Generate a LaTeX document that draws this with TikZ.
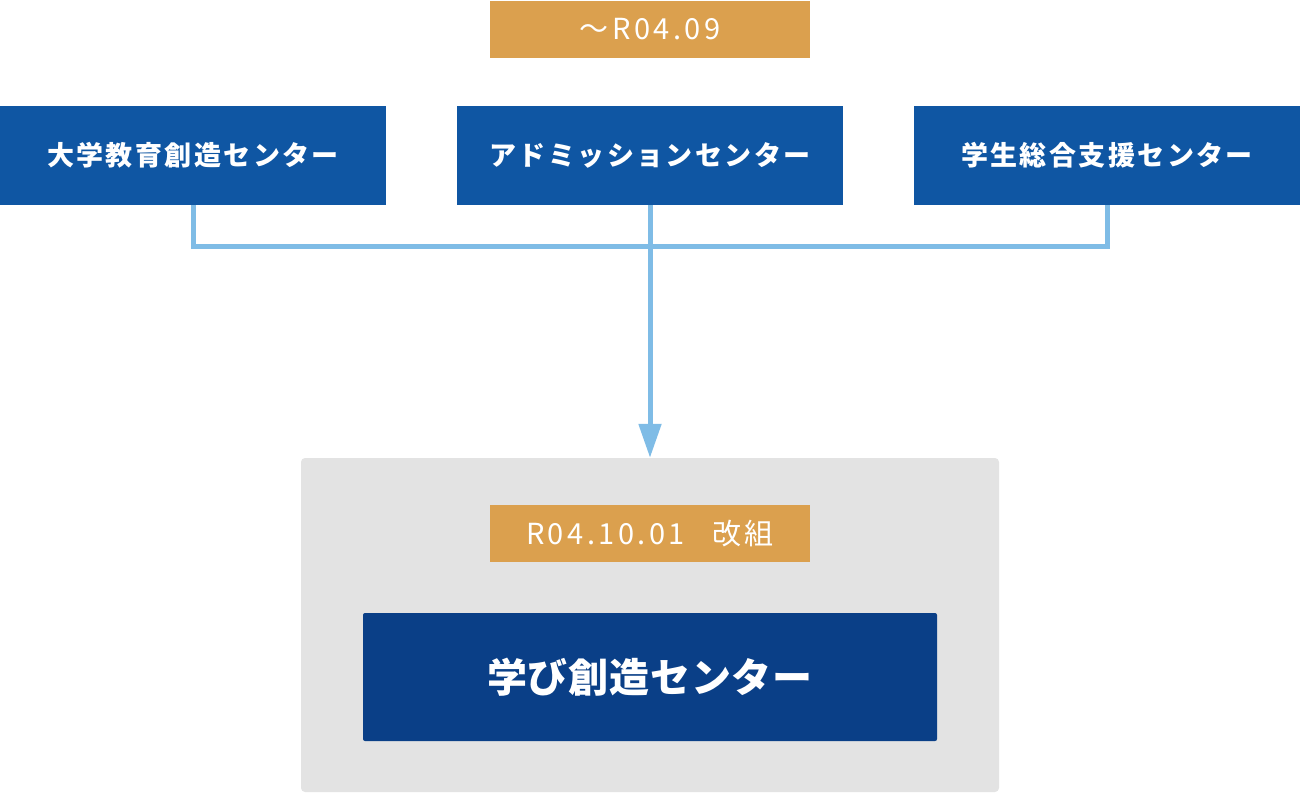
\documentclass[tikz,border=0pt]{standalone}
\usepackage{fontspec}
\setmainfont{Noto Sans CJK JP}
\usetikzlibrary{arrows.meta}
\definecolor{ochre}{HTML}{DBA04E}
\definecolor{midblue}{HTML}{0F56A3}
\definecolor{darkblue}{HTML}{0A3F87}
\definecolor{lineblue}{HTML}{7FBCE6}
\definecolor{panel}{HTML}{E3E3E3}
\tikzset{
  datebox/.style={fill=ochre, text=white, minimum width=320pt, minimum height=57pt, inner sep=0pt, font=\fontsize{29}{32}\selectfont\addfontfeature{LetterSpace=12}},
  unitbox/.style={fill=midblue, text=white, minimum width=386pt, minimum height=99pt, inner sep=0pt, font=\fontsize{27}{30}\selectfont\bfseries\addfontfeature{LetterSpace=9}},
  link/.style={draw=lineblue, line width=5pt},
}
\begin{document}
\begin{tikzpicture}[x=1pt,y=-1pt]
\useasboundingbox (0,0) rectangle (1300,793);
\node[datebox] (d1) at (650,29) {〜R04.09};
\node[unitbox] (a) at (193,155.5) {大学教育創造センター};
\node[unitbox] (b) at (650,155.5) {アドミッションセンター};
\node[unitbox] (c) at (1107,155.5) {学生総合支援センター};
\node[fill=panel, rounded corners=4pt, minimum width=698pt, minimum height=334pt, inner sep=0pt] (g) at (650,625) {};
\node[datebox] (d2) at (650,533.5) {R04.10.01\hspace{0.95em}改組};
\node[fill=darkblue, text=white, rounded corners=2pt, minimum width=574pt, minimum height=128pt, inner sep=0pt, font=\fontsize{40}{44}\selectfont\bfseries\addfontfeature{LetterSpace=2}] (m) at (650,677) {学び創造センター};
\coordinate (j) at (650,246);
\draw[link] (a.south) -- (a.south |- j) -- (c.south |- j) -- (c.south);
\draw[link, -{Triangle[length=34pt,width=22pt]}] (b.south) -- (g.north);
\end{tikzpicture}
\end{document}
